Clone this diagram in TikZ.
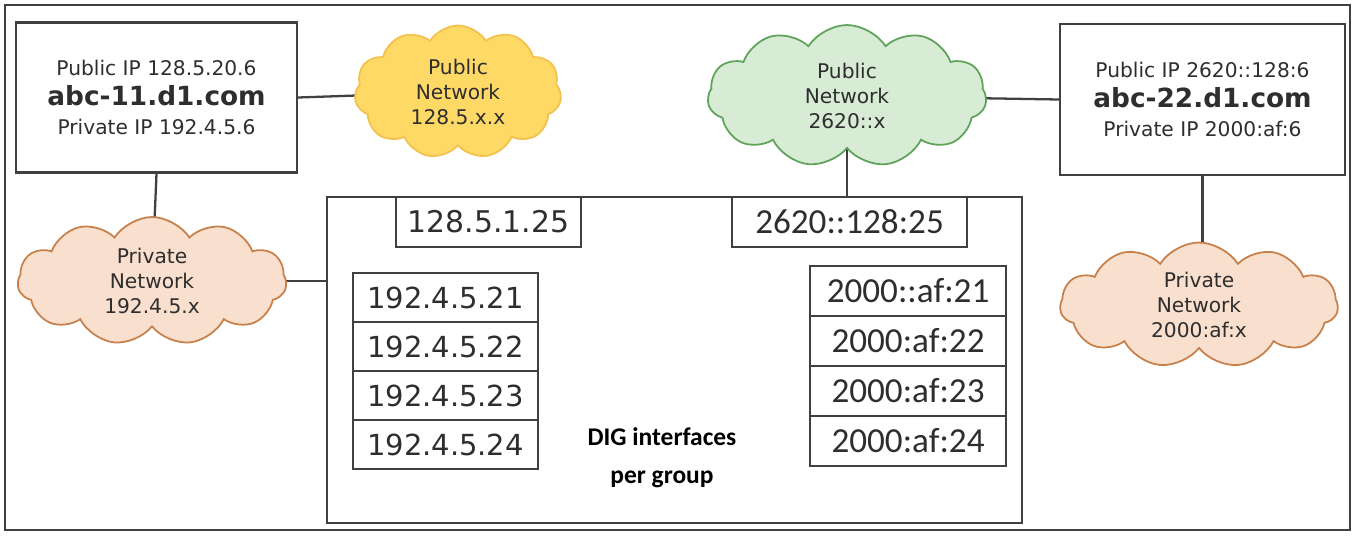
\documentclass[tikz,border=0pt]{standalone}
\usepackage{fontspec}
\setmainfont{DejaVu Sans}
\newfontfamily\calfont{Carlito}
\usetikzlibrary{shapes.symbols,backgrounds,calc}

\definecolor{edge}{HTML}{404040}
\definecolor{txt}{HTML}{2E2E2E}
\definecolor{pubfillA}{HTML}{FFD966}
\definecolor{pubdrawA}{HTML}{F2C14E}
\definecolor{pubfillB}{HTML}{D7EBD5}
\definecolor{pubdrawB}{HTML}{5FA35A}
\definecolor{privfill}{HTML}{F9DFCE}
\definecolor{privdraw}{HTML}{C8804A}

\tikzset{
  link/.style={draw=edge,line width=1.3pt},
  hostbox/.style={draw=edge,line width=1.3pt,fill=white,text=txt,align=center,
    minimum width=5.62cm,minimum height=3cm,
    font=\fontsize{11.5}{17}\selectfont},
  net/.style={cloud,cloud puffs=11,cloud puff arc=115,cloud ignores aspect,
    line width=1pt,text=txt,align=center,inner sep=0pt,
    font=\fontsize{11.5}{14}\selectfont},
  ifbox/.style={draw=edge,line width=1.3pt,fill=white,text=txt,inner sep=0pt}
}

\begin{document}
\begin{tikzpicture}[x=0.02cm,y=-0.02cm]
  \useasboundingbox (0,0) rectangle (1357,535);
  % outer frame
  \draw[edge,line width=1.3pt] (5,5) rectangle (1350,530);

  % hosts
  \node[hostbox] (hostA) at (156.5,97.5)
    {Public IP 128.5.20.6\\{\fontsize{15}{17}\selectfont\bfseries abc-11.d1.com}\\Private IP 192.4.5.6};
  \node[hostbox,minimum width=5.7cm,minimum height=3.02cm] (hostB) at (1202.5,99.5)
    {Public IP 2620::128:6\\{\fontsize{15}{17}\selectfont\bfseries abc-22.d1.com}\\Private IP 2000:af:6};

  % networks
  \node[net,fill=pubfillA,draw=pubdrawA,minimum width=4.14cm,minimum height=2.66cm] (pubA) at (458,92)
    {Public\\Network\\128.5.x.x};
  \node[net,fill=pubfillB,draw=pubdrawB,minimum width=5.58cm,minimum height=2.84cm] (pubB) at (847,96)
    {Public\\Network\\2620::x};
  \node[net,fill=privfill,draw=privdraw,minimum width=5.38cm,minimum height=2.56cm] (privA) at (152,281)
    {Private\\Network\\192.4.5.x};
  \node[net,fill=privfill,draw=privdraw,minimum width=5.56cm,minimum height=2.5cm] (privB) at (1199,305)
    {Private\\Network\\2000:af:x};

  % group box
  \node[draw=edge,line width=1.3pt,fill=white,minimum width=13.9cm,minimum height=6.52cm] (grp) at (674.5,360) {};
  \node[ifbox,minimum width=3.7cm,minimum height=1cm,font=\fontsize{17}{17}\selectfont] (vipA) at (488.5,222) {128.5.1.25};
  \node[ifbox,minimum width=4.7cm,minimum height=1cm,font=\calfont\fontsize{20}{20}\selectfont] (vipB) at (849.5,222) {2620::128:25};

  % interfaces
  \foreach \ip [count=\i from 0] in {21,22,23,24}
    \node[ifbox,minimum width=3.69cm,minimum height=0.98cm,font=\fontsize{16.5}{17}\selectfont]
      (ifA\i) at (445.5,297.5+49*\i) {192.4.5.\ip};
  \foreach \ip [count=\i from 0] in {{2000::af:21},{2000:af:22},{2000:af:23},{2000:af:24}}
    \node[ifbox,minimum width=3.92cm,minimum height=1cm,font=\calfont\fontsize{20}{20}\selectfont]
      (ifB\i) at (908,291+50*\i) {\ip};

  \node[text=black,align=center,font=\calfont\bfseries\fontsize{14.5}{21.5}\selectfont] (dig) at (662,458)
    {DIG interfaces\\per group};

  % links
  \begin{scope}[on background layer]
    \draw[link] (hostA.east) -- (pubA.center);
    \draw[link] (pubB.center) -- (hostB.west);
    \draw[link] ($(pubA.center)+(30,0)$) -- ($(pubA.center)+(30,0)$ |- grp.north);
    \draw[link] (pubB.center) -- (pubB.center |- grp.north);
    \draw[link] (hostA.south) -- (privA.center);
    \draw[link] (privA.center) -- (privA.center -| grp.west);
    \draw[link] (hostB.south) -- (hostB.south |- privB.center);
    \draw[link] ($(privB.center)+(0,-3)$) -- ($(privB.center)+(0,-3)$ -| grp.east);
  \end{scope}
\end{tikzpicture}
\end{document}
